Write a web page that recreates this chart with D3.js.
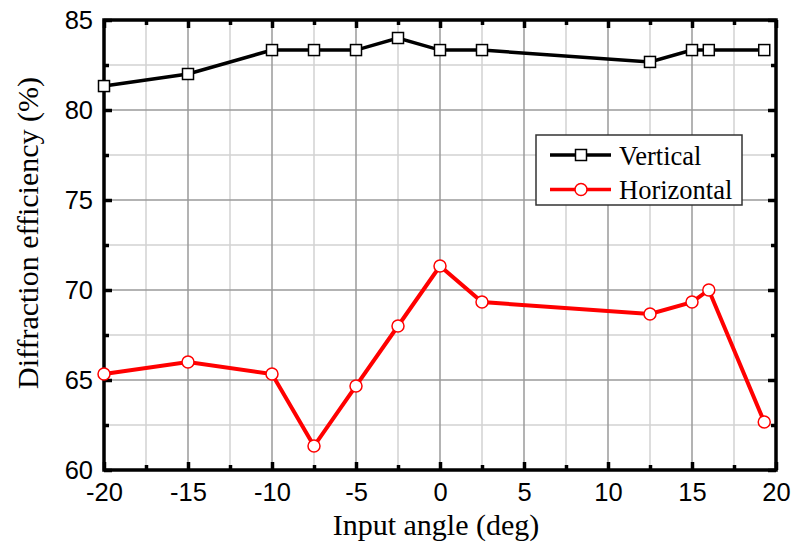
<!DOCTYPE html>
<html>
<head>
<meta charset="utf-8">
<script src="https://cdn.jsdelivr.net/npm/d3@7"></script>
<style>
  body { margin: 0; background: #fff; }
</style>
</head>
<body>
<svg id="chart" width="791" height="550"></svg>
<script>
// data
var angles = [-20, -15, -10, -7.5, -5, -2.5, 0, 2.5, 12.5, 15, 16, 19.3];
var vertical = [81.33, 82, 83.33, 83.33, 83.33, 84, 83.33, 83.33, 82.67, 83.33, 83.33, 83.33];
var horizontal = [65.33, 66, 65.33, 61.33, 64.67, 68, 71.33, 69.33, 68.67, 69.33, 70, 62.67];
var xTicks = [-20, -15, -10, -5, 0, 5, 10, 15, 20];
var yTicks = [60, 65, 70, 75, 80, 85];
var seriesNames = ["Vertical", "Horizontal"];

var svg = d3.select("#chart");
var margin = {left: 104, right: 15, top: 20, bottom: 80};
var width = 791 - margin.left - margin.right;
var height = 550 - margin.top - margin.bottom;
var serif = "Liberation Serif, Times New Roman, serif";
var sans = "Liberation Sans, Arial, sans-serif";
var fmt = d => String(d); // plain hyphen, not unicode minus

var x = d3.scaleLinear().domain([-20, 20]).range([0, width]);
var y = d3.scaleLinear().domain([60, 85]).range([height, 0]);

var g = svg.append("g").attr("transform", "translate(" + margin.left + "," + margin.top + ")");

// grid: minor every 2.5, major every 5
var minorX = d3.range(-17.5, 20, 5);
var minorY = d3.range(62.5, 85, 5);
g.selectAll(".gxm").data(minorX).enter().append("line")
  .attr("x1", d => x(d)).attr("x2", d => x(d)).attr("y1", 0).attr("y2", height)
  .attr("stroke", "#d2d2d2").attr("stroke-width", 1.5);
g.selectAll(".gym").data(minorY).enter().append("line")
  .attr("y1", d => y(d)).attr("y2", d => y(d)).attr("x1", 0).attr("x2", width)
  .attr("stroke", "#d2d2d2").attr("stroke-width", 1.5);
g.selectAll(".gx").data(xTicks.slice(1, -1)).enter().append("line")
  .attr("x1", d => x(d)).attr("x2", d => x(d)).attr("y1", 0).attr("y2", height)
  .attr("stroke", "#9a9a9a").attr("stroke-width", 1.5);
g.selectAll(".gy").data(yTicks.slice(1, -1)).enter().append("line")
  .attr("y1", d => y(d)).attr("y2", d => y(d)).attr("x1", 0).attr("x2", width)
  .attr("stroke", "#9a9a9a").attr("stroke-width", 1.5);

// inward ticks on all four sides
function tickMarks(axisGen, transform) {
  var a = g.append("g").attr("transform", transform).call(axisGen);
  a.select(".domain").remove();
  a.selectAll("line").attr("stroke", "#000").attr("stroke-width", 3.5);
  return a;
}
var bottom = tickMarks(d3.axisBottom(x).tickValues(xTicks).tickFormat(fmt).tickSizeInner(-8).tickSizeOuter(0), "translate(0," + height + ")");
bottom.selectAll("text").attr("font-size", 25.5).attr("font-family", sans).attr("fill", "#000")
  .attr("y", 31).attr("dy", 0);
tickMarks(d3.axisBottom(x).tickValues(minorX).tickSizeInner(-5).tickSizeOuter(0).tickFormat(""), "translate(0," + height + ")");
tickMarks(d3.axisTop(x).tickValues(xTicks).tickSizeInner(-8).tickSizeOuter(0).tickFormat(""), "translate(0,0)");
tickMarks(d3.axisTop(x).tickValues(minorX).tickSizeInner(-5).tickSizeOuter(0).tickFormat(""), "translate(0,0)");
var left = tickMarks(d3.axisLeft(y).tickValues(yTicks).tickFormat(fmt).tickSizeInner(-8).tickSizeOuter(0), "translate(0,0)");
left.selectAll("text").attr("font-size", 25.5).attr("font-family", sans).attr("fill", "#000")
  .attr("x", -11).attr("dy", "0.35em");
tickMarks(d3.axisLeft(y).tickValues(minorY).tickSizeInner(-5).tickSizeOuter(0).tickFormat(""), "translate(0,0)");
tickMarks(d3.axisRight(y).tickValues(yTicks).tickSizeInner(-8).tickSizeOuter(0).tickFormat(""), "translate(" + width + ",0)");
tickMarks(d3.axisRight(y).tickValues(minorY).tickSizeInner(-5).tickSizeOuter(0).tickFormat(""), "translate(" + width + ",0)");

// frame
g.append("rect").attr("width", width).attr("height", height)
  .attr("fill", "none").attr("stroke", "#000").attr("stroke-width", 3.5);

// series
var line = d3.line().x(d => x(d[0])).y(d => y(d[1]));
var vData = angles.map((a, i) => [a, vertical[i]]);
var hData = angles.map((a, i) => [a, horizontal[i]]);

g.append("path").datum(vData).attr("d", line)
  .attr("fill", "none").attr("stroke", "#000").attr("stroke-width", 3.5);
g.selectAll(".vm").data(vData).enter().append("rect")
  .attr("x", d => x(d[0]) - 5.5).attr("y", d => y(d[1]) - 5.5)
  .attr("width", 11).attr("height", 11)
  .attr("fill", "#fff").attr("stroke", "#000").attr("stroke-width", 1.5);

g.append("path").datum(hData).attr("d", line)
  .attr("fill", "none").attr("stroke", "#ff0000").attr("stroke-width", 4);
g.selectAll(".hm").data(hData).enter().append("circle")
  .attr("cx", d => x(d[0])).attr("cy", d => y(d[1])).attr("r", 6)
  .attr("fill", "#fff").attr("stroke", "#ff0000").attr("stroke-width", 1.5);

// legend
var lg = svg.append("g").attr("transform", "translate(536,135)");
lg.append("rect").attr("width", 206).attr("height", 70)
  .attr("fill", "#fff").attr("stroke", "#333").attr("stroke-width", 1.5);
seriesNames.forEach(function(name, i) {
  var ly = 20 + i * 34.5;
  var col = i === 0 ? "#000" : "#ff0000";
  lg.append("line").attr("x1", 14).attr("x2", 75).attr("y1", ly).attr("y2", ly)
    .attr("stroke", col).attr("stroke-width", 3.5);
  if (i === 0) {
    lg.append("rect").attr("x", 39.5).attr("y", ly - 5.5).attr("width", 11).attr("height", 11)
      .attr("fill", "#fff").attr("stroke", "#000").attr("stroke-width", 1.5);
  } else {
    lg.append("circle").attr("cx", 45).attr("cy", ly).attr("r", 6)
      .attr("fill", "#fff").attr("stroke", "#ff0000").attr("stroke-width", 1.5);
  }
  lg.append("text").attr("x", 83).attr("y", ly + 9.5)
    .attr("font-family", serif).attr("font-size", 26.5)
    .text(name);
});

// axis titles
svg.append("text").attr("x", 436).attr("y", 535)
  .attr("text-anchor", "middle")
  .attr("font-family", serif).attr("font-size", 30)
  .text("Input angle (deg)");
svg.append("text").attr("transform", "translate(38,233) rotate(-90)")
  .attr("text-anchor", "middle")
  .attr("font-family", serif).attr("font-size", 30)
  .text("Diffraction efficiency (%)");
</script>
</body>
</html>
